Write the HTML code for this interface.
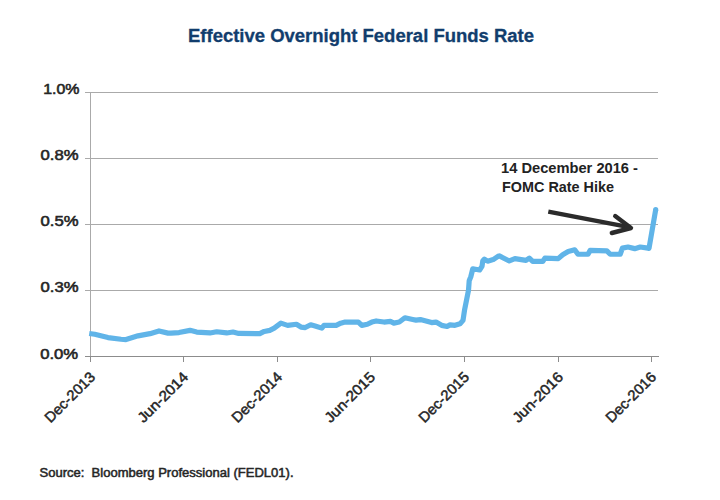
<!DOCTYPE html>
<html><head><meta charset="utf-8"><style>
html,body{margin:0;padding:0;background:#fff;}
svg{display:block;}
text{font-family:"Liberation Sans",sans-serif;}
.title{font-size:17.5px;font-weight:bold;fill:#113d6d;stroke:#113d6d;stroke-width:0.3px;}
.yl{font-size:14px;font-weight:normal;fill:#262626;stroke:#262626;stroke-width:0.55px;}
.xl{font-size:14.5px;font-weight:normal;fill:#262626;stroke:#262626;stroke-width:0.5px;}
.ann{font-size:14px;font-weight:bold;fill:#222;}
.src{font-size:12px;font-weight:normal;fill:#262626;stroke:#262626;stroke-width:0.5px;white-space:pre;}
</style></head><body>
<svg width="720" height="500" viewBox="0 0 720 500">
<rect width="720" height="500" fill="#fff"/>
<text x="188" y="41.5" textLength="346" lengthAdjust="spacingAndGlyphs" class="title">Effective Overnight Federal Funds Rate</text>
<line x1="85" y1="92.5" x2="658" y2="92.5" stroke="#aaa" stroke-width="1"/><line x1="85" y1="158.5" x2="658" y2="158.5" stroke="#aaa" stroke-width="1"/><line x1="85" y1="224.5" x2="658" y2="224.5" stroke="#aaa" stroke-width="1"/><line x1="85" y1="290.5" x2="658" y2="290.5" stroke="#aaa" stroke-width="1"/>
<line x1="85" y1="356.5" x2="659" y2="356.5" stroke="#8c8c8c" stroke-width="1"/>
<line x1="90.5" y1="92" x2="90.5" y2="356" stroke="#aaa" stroke-width="1"/>
<line x1="90.5" y1="356" x2="90.5" y2="362" stroke="#8c8c8c" stroke-width="1"/><line x1="183.5" y1="356" x2="183.5" y2="362" stroke="#8c8c8c" stroke-width="1"/><line x1="277.5" y1="356" x2="277.5" y2="362" stroke="#8c8c8c" stroke-width="1"/><line x1="370.5" y1="356" x2="370.5" y2="362" stroke="#8c8c8c" stroke-width="1"/><line x1="464.5" y1="356" x2="464.5" y2="362" stroke="#8c8c8c" stroke-width="1"/><line x1="558.5" y1="356" x2="558.5" y2="362" stroke="#8c8c8c" stroke-width="1"/><line x1="651.5" y1="356" x2="651.5" y2="362" stroke="#8c8c8c" stroke-width="1"/>
<text x="43.2" y="93.5" textLength="36.3" lengthAdjust="spacingAndGlyphs" class="yl">1.0%</text><text x="40.5" y="160.2" textLength="38" lengthAdjust="spacingAndGlyphs" class="yl">0.8%</text><text x="40.5" y="226.4" textLength="38" lengthAdjust="spacingAndGlyphs" class="yl">0.5%</text><text x="40.5" y="292.4" textLength="38" lengthAdjust="spacingAndGlyphs" class="yl">0.3%</text><text x="40.2" y="358.7" textLength="38" lengthAdjust="spacingAndGlyphs" class="yl">0.0%</text>
<text transform="translate(96.0,378) rotate(-45)" text-anchor="end" textLength="64.5" lengthAdjust="spacingAndGlyphs" class="xl">Dec-2013</text><text transform="translate(189.0,378) rotate(-45)" text-anchor="end" textLength="64.5" lengthAdjust="spacingAndGlyphs" class="xl">Jun-2014</text><text transform="translate(283.0,378) rotate(-45)" text-anchor="end" textLength="64.5" lengthAdjust="spacingAndGlyphs" class="xl">Dec-2014</text><text transform="translate(376.0,378) rotate(-45)" text-anchor="end" textLength="64.5" lengthAdjust="spacingAndGlyphs" class="xl">Jun-2015</text><text transform="translate(470.0,378) rotate(-45)" text-anchor="end" textLength="64.5" lengthAdjust="spacingAndGlyphs" class="xl">Dec-2015</text><text transform="translate(564.0,378) rotate(-45)" text-anchor="end" textLength="64.5" lengthAdjust="spacingAndGlyphs" class="xl">Jun-2016</text><text transform="translate(657.0,378) rotate(-45)" text-anchor="end" textLength="64.5" lengthAdjust="spacingAndGlyphs" class="xl">Dec-2016</text>
<polyline points="89.2,333.45 94.7,334.25 108,337.55 121,339.25 126,339.55 138,335.85 150,333.65 159,330.95 168,333.15 171,333.15 179,332.55 190,330.35 196.7,332.05 210,332.95 216.7,331.75 226.7,332.95 233,332.05 238.7,333.45 259.8,333.65 264.2,331.45 269.8,330.35 274.2,328.15 280.9,323.15 287.6,325.35 296.4,324.25 300.9,327.05 305.3,327.55 310.7,324.75 315.1,325.95 321.8,328.15 324,325.35 336.2,325.35 340.7,323.15 345.1,322.05 358.4,322.05 361.8,325.35 367.3,324.25 371.8,322.05 376.2,320.95 384,322.05 390.4,321.45 393.8,323.15 399.3,322.05 404.9,317.75 412.7,319.45 416,320.15 420.4,319.55 426,320.95 431.6,322.55 436,322.05 441.6,325.35 447.1,326.45 450,324.85 455,325.35 460,323.85 463,320.35 464.5,310.35 466.5,300.35 468.5,290.35 469.2,280.75 470.8,276.75 472.8,268.75 479.6,269.95 482,266.35 482.8,260.75 484.4,259.15 487.6,261.15 493.2,259.55 498,256.35 499.3,255.95 509.3,260.95 514.9,258.65 526,260.35 529.3,258.15 532.7,261.45 542.7,261.45 544.9,258.15 558.2,258.65 562.7,254.75 568.2,251.45 574.7,249.75 578,254.25 588,254.25 590.2,250.35 606.9,250.95 610.2,254.25 620.2,254.25 622.4,248.15 628,247.05 634.7,248.65 640.2,247.05 648,248.15 649,248.35 655.7,209.65" fill="none" stroke="#60b4e8" stroke-width="5.2" stroke-linejoin="round" stroke-linecap="butt"/>
<circle cx="655.7" cy="209.65" r="2.6" fill="#60b4e8"/>
<g stroke="#2b2b2b" stroke-width="4.4" fill="none" stroke-linejoin="round">
<line x1="548.3" y1="211.7" x2="629" y2="227.2" stroke-linecap="butt"/>
<polyline points="615.2,216 631,228 611.8,233" stroke-linecap="round"/>
</g>
<text x="501" y="172.7" textLength="137" lengthAdjust="spacingAndGlyphs" class="ann">14 December 2016 -</text>
<text x="502" y="191.5" textLength="112" lengthAdjust="spacingAndGlyphs" class="ann">FOMC Rate Hike</text>
<text x="39.5" y="477" textLength="254" lengthAdjust="spacingAndGlyphs" class="src">Source:&#160; Bloomberg Professional (FEDL01).</text>
</svg>
</body></html>
